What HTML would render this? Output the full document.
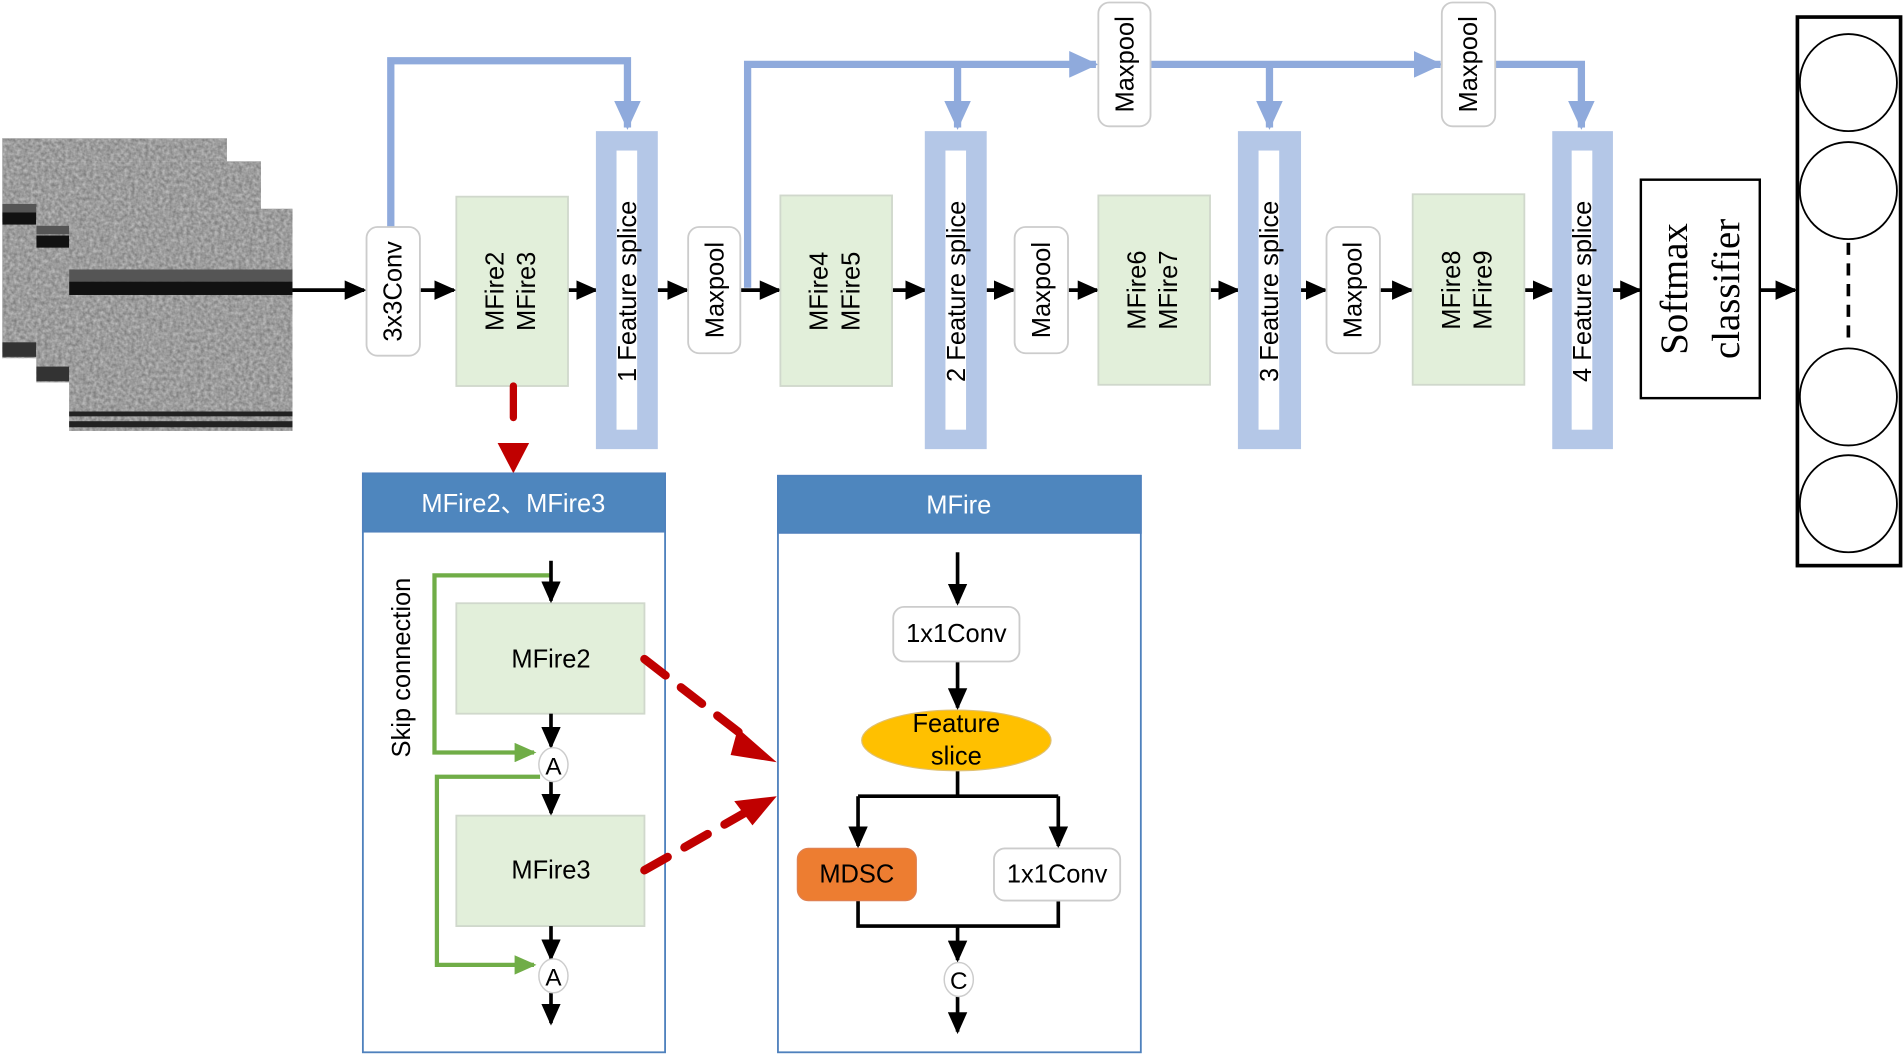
<!DOCTYPE html>
<html><head><meta charset="utf-8"><style>
html,body{margin:0;padding:0;background:#fff;}
svg{display:block;}
text{font-family:"Liberation Sans","Noto Sans CJK SC",sans-serif;}
</style></head><body>
<svg width="1903" height="1056" viewBox="0 0 1568 870" xmlns="http://www.w3.org/2000/svg">
<defs>
<filter id="noise" x="0" y="0" width="100%" height="100%">
<feTurbulence type="fractalNoise" baseFrequency="0.35" numOctaves="2" seed="3"/>
<feColorMatrix type="matrix" values="0 0 0 0 0.5  0 0 0 0 0.5  0 0 0 0 0.5  1.4 0 0 0 -0.2"/>
</filter>
<marker id="ab" markerUnits="userSpaceOnUse" markerWidth="18" markerHeight="16" refX="16" refY="8" orient="auto"><path d="M0,0 L18,8 L0,16 Z" fill="#000"/></marker>
<marker id="ag" markerUnits="userSpaceOnUse" markerWidth="18" markerHeight="16" refX="16" refY="8" orient="auto"><path d="M0,0 L18,8 L0,16 Z" fill="#70ad47"/></marker>
<marker id="al" markerUnits="userSpaceOnUse" markerWidth="24" markerHeight="22" refX="22" refY="11" orient="auto"><path d="M0,0 L24,11 L0,22 Z" fill="#8faadc"/></marker>
</defs>

<g>
<rect x="2" y="114" width="185" height="181" fill="#7d7d7d"/>
<rect x="2" y="114" width="185" height="181" fill="#888" filter="url(#noise)"/>
<rect x="2" y="168" width="185" height="7" fill="#555"/>
<rect x="2" y="175" width="185" height="10" fill="#111"/>
<rect x="2" y="282" width="185" height="12" fill="#333"/>
<rect x="30" y="133" width="185" height="182" fill="#7d7d7d"/>
<rect x="30" y="133" width="185" height="182" fill="#888" filter="url(#noise)"/>
<rect x="30" y="186" width="185" height="7" fill="#555"/>
<rect x="30" y="194" width="185" height="10" fill="#111"/>
<rect x="30" y="302" width="185" height="12" fill="#333"/>
<rect x="57" y="172" width="184" height="183" fill="#7d7d7d"/>
<rect x="57" y="172" width="184" height="183" fill="#888" filter="url(#noise)"/>
<rect x="57" y="222" width="184" height="10" fill="#555"/>
<rect x="57" y="232" width="184" height="11" fill="#111"/>
<rect x="57" y="339" width="184" height="4" fill="#222"/>
<rect x="57" y="347" width="184" height="5" fill="#222"/>
</g>

<g fill="none" stroke="#8faadc" stroke-width="6">
<path d="M322,187 V50 H517 V105" marker-end="url(#al)"/>
<path d="M616,237 V53 H903" marker-end="url(#al)"/>
<path d="M789,53 V105" marker-end="url(#al)"/>
<path d="M946,53 H1187" marker-end="url(#al)"/>
<path d="M1046,53 V105" marker-end="url(#al)"/>
<path d="M1230,53 H1303 V105" marker-end="url(#al)"/>
</g>

<g stroke="#000" stroke-width="3" fill="none">
<path d="M241,239 H300" marker-end="url(#ab)"/>
<path d="M346,239 H374" marker-end="url(#ab)"/>
<path d="M468,239 H491" marker-end="url(#ab)"/>
<path d="M542,239 H566" marker-end="url(#ab)"/>
<path d="M610,239 H642" marker-end="url(#ab)"/>
<path d="M735,239 H762" marker-end="url(#ab)"/>
<path d="M813,239 H835" marker-end="url(#ab)"/>
<path d="M880,239 H904" marker-end="url(#ab)"/>
<path d="M997,239 H1020" marker-end="url(#ab)"/>
<path d="M1072,239 H1092" marker-end="url(#ab)"/>
<path d="M1137,239 H1163" marker-end="url(#ab)"/>
<path d="M1256,239 H1279" marker-end="url(#ab)"/>
<path d="M1329,239 H1351" marker-end="url(#ab)"/>
<path d="M1450,239 H1479" marker-end="url(#ab)"/>
</g>

<g fill="#fff" stroke="#ccc" stroke-width="1.5">
<rect x="302" y="187" width="44" height="106" rx="9"/>
<rect x="567" y="187" width="43" height="104" rx="9"/>
<rect x="836" y="187" width="44" height="104" rx="9"/>
<rect x="1093" y="187" width="44" height="104" rx="9"/>
<rect x="905" y="2" width="43" height="102" rx="9"/>
<rect x="1188" y="2" width="44" height="102" rx="9"/>
</g>
<g font-size="21" fill="#000" text-anchor="middle">
<text transform="translate(331,240) rotate(-90)">3x3Conv</text>
<text transform="translate(596,239) rotate(-90)">Maxpool</text>
<text transform="translate(865,239) rotate(-90)">Maxpool</text>
<text transform="translate(1122,239) rotate(-90)">Maxpool</text>
<text transform="translate(934,53) rotate(-90)">Maxpool</text>
<text transform="translate(1217,53) rotate(-90)">Maxpool</text>
</g>

<g fill="#e2efda" stroke="#d0d8cc" stroke-width="1.5">
<rect x="376" y="162" width="92" height="156"/>
<rect x="643" y="161" width="92" height="157"/>
<rect x="905" y="161" width="92" height="156"/>
<rect x="1164" y="160" width="92" height="157"/>
</g>
<g font-size="21" fill="#000" text-anchor="middle">
<text transform="translate(415,240) rotate(-90)">MFire2</text>
<text transform="translate(441,240) rotate(-90)">MFire3</text>
<text transform="translate(682,240) rotate(-90)">MFire4</text>
<text transform="translate(708,240) rotate(-90)">MFire5</text>
<text transform="translate(944,239) rotate(-90)">MFire6</text>
<text transform="translate(970,239) rotate(-90)">MFire7</text>
<text transform="translate(1203,239) rotate(-90)">MFire8</text>
<text transform="translate(1229,239) rotate(-90)">MFire9</text>
</g>

<g fill="#b4c7e7">
<rect x="491" y="108" width="51" height="262"/>
<rect x="762" y="108" width="51" height="262"/>
<rect x="1020" y="108" width="52" height="262"/>
<rect x="1279" y="108" width="50" height="262"/>
</g>
<g fill="#fff">
<rect x="508" y="124" width="17" height="230"/>
<rect x="779" y="124" width="17" height="230"/>
<rect x="1037" y="124" width="17" height="230"/>
<rect x="1295" y="124" width="17" height="230"/>
</g>
<g font-size="21" fill="#000" text-anchor="middle">
<text transform="translate(524,240) rotate(-90)">1 Feature splice</text>
<text transform="translate(795,240) rotate(-90)">2 Feature splice</text>
<text transform="translate(1053,240) rotate(-90)">3 Feature splice</text>
<text transform="translate(1311,240) rotate(-90)">4 Feature splice</text>
</g>

<rect x="1352" y="148" width="98" height="180" fill="#fff" stroke="#000" stroke-width="2"/>
<g font-size="32" text-anchor="middle">
<text transform="translate(1390,238) rotate(-90)" style="font-family:'Liberation Serif',serif">Softmax</text>
<text transform="translate(1433,238) rotate(-90)" style="font-family:'Liberation Serif',serif">classifier</text>
</g>

<rect x="1481" y="14" width="85" height="452" fill="#fff" stroke="#000" stroke-width="3"/>
<g fill="#fff" stroke="#000" stroke-width="1.5">
<circle cx="1523" cy="68" r="40"/>
<circle cx="1523" cy="157" r="40"/>
<circle cx="1523" cy="327" r="40"/>
<circle cx="1523" cy="415" r="40"/>
</g>
<line x1="1523" y1="200" x2="1523" y2="285" stroke="#000" stroke-width="3" stroke-dasharray="10,7"/>

<path d="M423,318 V344" stroke="#c00000" stroke-width="6" fill="none" stroke-linecap="round"/>
<path d="M410,365 L436,365 L423,390 Z" fill="#c00000"/>

<rect x="299" y="390" width="249" height="477" fill="#fff" stroke="#4f81bd" stroke-width="1.5"/>
<rect x="299" y="390" width="249" height="48" fill="#4e86be" stroke="#4f81bd" stroke-width="1.5"/>
<text x="423" y="422" font-size="21" fill="#fff" text-anchor="middle">MFire2、MFire3</text>

<rect x="376" y="497" width="155" height="91" fill="#e2efda" stroke="#d0d8cc" stroke-width="1.5"/>
<rect x="376" y="672" width="155" height="91" fill="#e2efda" stroke="#d0d8cc" stroke-width="1.5"/>
<text x="454" y="550" font-size="21" text-anchor="middle">MFire2</text>
<text x="454" y="724" font-size="21" text-anchor="middle">MFire3</text>

<g fill="none" stroke="#70ad47" stroke-width="3.5">
<path d="M454,474 H358 V620 H440" marker-end="url(#ag)"/>
<path d="M445,640 H360 V795 H440" marker-end="url(#ag)"/>
</g>
<g stroke="#000" stroke-width="3" fill="none">
<path d="M454,462 V495" marker-end="url(#ab)"/>
<path d="M454,588 V615" marker-end="url(#ab)"/>
<path d="M454,644 V670" marker-end="url(#ab)"/>
<path d="M454,763 V790" marker-end="url(#ab)"/>
<path d="M454,818 V843" marker-end="url(#ab)"/>
</g>
<g fill="#fff" stroke="#ccc" stroke-width="1.2">
<ellipse cx="456" cy="630" rx="12" ry="14"/>
<ellipse cx="456" cy="804" rx="12" ry="14"/>
</g>
<text x="456" y="638" font-size="20" text-anchor="middle">A</text>
<text x="456" y="812" font-size="20" text-anchor="middle">A</text>
<text transform="translate(338,550) rotate(-90)" font-size="21" text-anchor="middle">Skip connection</text>

<g stroke="#c00000" stroke-width="7" fill="none" stroke-dasharray="22,16" stroke-linecap="round">
<path d="M531,543 L620,612"/>
<path d="M531,717 L615,669"/>
</g>
<path d="M608,600 L640,628 L602,622 Z" fill="#c00000"/>
<path d="M605,660 L640,656 L620,680 Z" fill="#c00000"/>

<rect x="641" y="392" width="299" height="475" fill="#fff" stroke="#4f81bd" stroke-width="1.5"/>
<rect x="641" y="392" width="299" height="47" fill="#4e86be" stroke="#4f81bd" stroke-width="1.5"/>
<text x="790" y="423" font-size="21" fill="#fff" text-anchor="middle">MFire</text>

<g stroke="#000" stroke-width="3" fill="none">
<path d="M789,455 V497" marker-end="url(#ab)"/>
<path d="M789,545 V583" marker-end="url(#ab)"/>
<path d="M789,635 V656 M707,656 H872"/>
<path d="M707,656 V697" marker-end="url(#ab)"/>
<path d="M872,656 V697" marker-end="url(#ab)"/>
<path d="M707,742 V763 H872 V742"/>
<path d="M789,763 V791" marker-end="url(#ab)"/>
<path d="M789,821 V850" marker-end="url(#ab)"/>
</g>
<rect x="736" y="500" width="104" height="45" rx="9" fill="#fff" stroke="#ccc" stroke-width="1.5"/>
<text x="788" y="529" font-size="21" text-anchor="middle">1x1Conv</text>
<ellipse cx="788" cy="610" rx="78" ry="25" fill="#ffc000" stroke="#e0c070" stroke-width="1"/>
<text x="788" y="603" font-size="21" text-anchor="middle">Feature</text>
<text x="788" y="630" font-size="21" text-anchor="middle">slice</text>
<rect x="657" y="699" width="98" height="43" rx="9" fill="#ed7d31" stroke="#e08050" stroke-width="1"/>
<text x="706" y="727" font-size="21" text-anchor="middle">MDSC</text>
<rect x="819" y="699" width="104" height="43" rx="9" fill="#fff" stroke="#ccc" stroke-width="1.5"/>
<text x="871" y="727" font-size="21" text-anchor="middle">1x1Conv</text>
<ellipse cx="790" cy="807" rx="12" ry="14" fill="#fff" stroke="#ccc" stroke-width="1.2"/>
<text x="790" y="815" font-size="20" text-anchor="middle">C</text>
</svg>
</body></html>
